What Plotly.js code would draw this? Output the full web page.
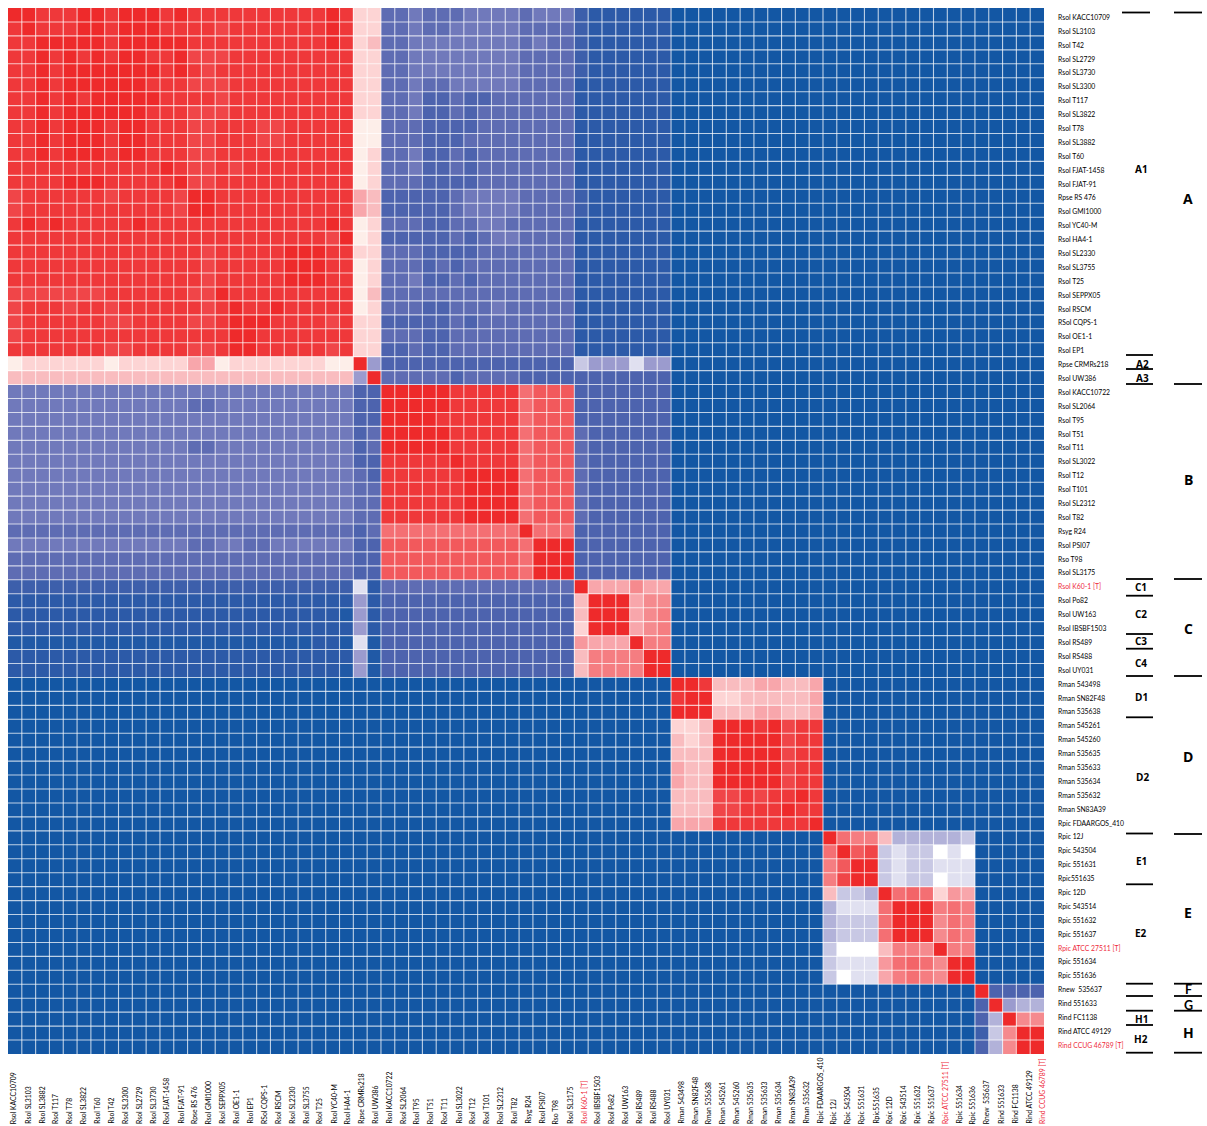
<!DOCTYPE html>
<html><head><meta charset="utf-8">
<script src="https://cdn.plot.ly/plotly-3.0.1.min.js"></script>
<style>html,body{margin:0;padding:0;background:#fff}</style></head>
<body><div id="chart" style="width:1207px;height:1126px"></div>
<script>
const rowLabels = ["Rsol KACC10709","Rsol SL3103","Rsol T42","Rsol SL2729","Rsol SL3730","Rsol SL3300","Rsol T117","Rsol SL3822","Rsol T78","Rsol SL3882","Rsol T60","Rsol FJAT-1458","Rsol FJAT-91","Rpse RS 476","Rsol GMI1000","Rsol YC40-M","Rsol HA4-1","Rsol SL2330","Rsol SL3755","Rsol T25","Rsol SEPPX05","Rsol RSCM","RSol CQPS-1","Rsol OE1-1","Rsol EP1","Rpse CRMRs218","Rsol UW386","Rsol KACC10722","Rsol SL2064","Rsol T95","Rsol T51","Rsol T11","Rsol SL3022","Rsol T12","Rsol T101","Rsol SL2312","Rsol T82","Rsyg R24","Rsol PSI07","Rso T98","Rsol SL3175","Rsol K60-1 [T]","Rsol Po82","Rsol UW163","Rsol IBSBF1503","Rsol RS489","Rsol RS488","Rsol UY031","Rman 543498","Rman SN82F48","Rman 535638","Rman 545261","Rman 545260","Rman 535635","Rman 535633","Rman 535634","Rman 535632","Rman SN83A39","Rpic FDAARGOS_410","Rpic 12J","Rpic 543504","Rpic 551631","Rpic551635","Rpic 12D","Rpic 543514","Rpic 551632","Rpic 551637","Rpic ATCC 27511 [T]","Rpic 551634","Rpic 551636","Rnew  535637","Rind 551633","Rind FC1138","Rind ATCC 49129","Rind CCUG 46789 [T]"];
const colLabels = ["Rsol KACC10709","Rsol SL3103","Rsol SL3882","Rsol T117","Rsol T78","Rsol SL3822","Rsol T60","Rsol T42","Rsol SL3300","Rsol SL2729","Rsol SL3730","Rsol FJAT-1458","Rsol FJAT-91","Rpse RS 476","Rsol GMI1000","Rsol SEPPX05","Rsol OE1-1","Rsol EP1","RSol CQPS-1","Rsol RSCM","Rsol SL2330","Rsol SL3755","Rsol T25","Rsol YC40-M","Rsol HA4-1","Rpse CRMRs218","Rsol UW386","Rsol KACC10722","Rsol SL2064","Rsol T95","Rsol T51","Rsol T11","Rsol SL3022","Rsol T12","Rsol T101","Rsol SL2312","Rsol T82","Rsyg R24","Rsol PSI07","Rso T98","Rsol SL3175","Rsol K60-1 [T]","Rsol IBSBF1503","Rsol Po82","Rsol UW163","Rsol RS489","Rsol RS488","Rsol UY031","Rman 543498","Rman SN82F48","Rman 535638","Rman 545261","Rman 545260","Rman 535635","Rman 535633","Rman 535634","Rman SN83A39","Rman 535632","Rpic FDAARGOS_410","Rpic 12J","Rpic 543504","Rpic 551631","Rpic551635","Rpic 12D","Rpic 543514","Rpic 551632","Rpic 551637","Rpic ATCC 27511 [T]","Rpic 551634","Rpic 551636","Rnew  535637","Rind 551633","Rind FC1138","Rind ATCC 49129","Rind CCUG 46789 [T]"];
const typeStrains = ["Rsol K60-1 [T]","Rpic ATCC 27511 [T]","Rind CCUG 46789 [T]"];

// Similarity levels read per cell, strains 1-48 against strains 1-48
const upperPanel = [
[19,19,18,18,18,19,19,18,19,19,19,18,19,18,18,18,18,18,18,18,18,18,18,19,18,11,11,3,3,4,3,3,3,4,4,4,4,3,4,4,4,1.5,1,1,1,1,1,1],
[18,19,18,18,18,19,19,18,19,19,19,18,18,18,18,17,18,18,18,18,18,18,18,19,18,11,11,3,3,4,3,3,4,4,4,4,4,3,3,3,3,1.5,1,1,1,1,1,1],
[18,18,19,19,19,19,19,18,19,19,19,19,19,18,18,18,18,18,18,18,18,18,18,19,18,11,12,3,3,4,4,4,4,4,4,4,4,3,4,3,3,1.5,1,1,1,1,1,1],
[18,18,19,18,19,18,19,18,19,19,18,18,19,17,17,17,18,18,18,18,18,18,18,18,18,11,11,3,3,4,4,4,4,4,4,4,4,3,3,3,3,1.5,1,1,1,1,1,1],
[18,18,19,18,19,19,19,19,19,19,19,18,19,18,17,18,18,18,18,18,18,18,18,18,18,11,11,3,3,4,4,4,4,4,4,4,4,3,3,3,3,1.5,1,1,1,1,1,1],
[18,18,19,18,19,19,19,19,19,19,18,18,18,17,17,17,18,18,18,18,18,18,18,18,18,11,11,3,3,4,3,3,4,4,4,4,4,3,3,3,3,1,1,1,1,1,1,1],
[18,18,19,18,19,18,19,19,19,19,19,18,18,18,18,17,18,18,18,18,18,18,18,18,18,11,11,3,3,4,2,2,3,2,2,3,3,3,3,3,3,1,1,1,1,1,1,1],
[18,18,19,18,19,19,19,19,19,19,18,18,18,17,17,17,18,18,18,18,18,18,18,18,18,11,11,3,3,4,2,2,3,2,3,3,3,3,3,3,3,1,1,1,1,1,1,1],
[18,18,19,18,19,19,19,18,19,19,18,18,18,17,17,18,18,18,17,17,18,18,18,18,18,10,10,3,3,3,2,2,2,2,3,3,3,3,3,3,3,1,1,1,1,1,1,1],
[18,18,19,18,19,19,19,18,19,19,18,18,18,17,17,18,18,18,17,17,18,18,18,18,18,10,10,3,3,3,2,2,2,3,3,3,3,3,3,3,3,1,1,1,1,1,1,1],
[18,18,19,18,19,19,19,18,19,19,18,18,18,17,17,18,18,18,18,18,18,18,18,18,18,10,11,3,3,4,2,2,3,2,3,3,3,3,3,3,3,1,1,1,1,1,1,1],
[18,18,18,18,18,18,18,18,18,18,18,19,18,17,17,18,17,18,18,18,18,18,18,18,18,10,11,3,3,4,2,2,3,2,3,3,3,3,3,3,3,1,1,1,1,1,1,1],
[18,18,18,18,19,19,19,18,18,18,18,18,19,17,17,18,18,18,18,18,18,18,18,18,18,10,11,3,3,3,2,2,2,2,3,3,3,3,3,3,3,1,1,1,1,1,1,1],
[17,18,18,18,18,18,18,17,18,18,18,18,17,19,19,18,18,18,18,18,18,18,18,18,18,13,12,2,2,2,2,2,3,4,4,4,4,3,3,3,3,1.5,1,1,1,1,1,1],
[17,18,18,18,18,18,18,18,18,18,18,18,17,19,19,18,18,18,18,18,18,18,18,18,18,13,12,2,2,2,2,2,3,4,4,4,4,3,3,3,3,1.5,1,1,1,1,1,1],
[18,19,18,19,18,18,18,18,18,19,18,18,18,18,18,18,18,18,18,18,18,18,18,19,18,10,11,3,3,3,2,2,3,3,4,4,3,3,3,3,3,1,1,1,1,1,1,1],
[18,18,18,18,18,18,18,18,18,18,18,18,18,18,18,18,18,18,18,18,18,18,18,17,19,10,11,2,2,2,2,2,3,2,3,4,4,3,3,3,3,1,1,1,1,1,1,1],
[18,18,18,18,18,18,18,18,18,18,18,18,18,18,17,18,18,18,18,18,19,19,19,18,18,11,11,3,3,3,2,2,2,2,3,3,3,3,3,3,3,1,1,1,1,1,1,1],
[18,18,18,18,18,18,18,18,18,18,18,18,18,18,17,18,18,18,18,18,19,19,19,18,18,10,11,3,3,3,2,3,2,3,3,3,3,3,3,3,3,1,1,1,1,1,1,1],
[18,18,18,18,18,18,18,18,18,18,18,18,18,18,17,18,18,18,18,18,19,19,19,18,18,10,11,3,3,4,2,2,3,2,3,3,3,3,3,3,3,1,1,1,1,1,1,1],
[17,17,17,17,17,17,17,18,18,18,18,18,18,17,17,19,18,18,18,18,18,18,18,18,18,10,12,3,3,3,3,3,3,3,3,3,3,3,3,3,3,1,1,1,1,1,1,1],
[17,18,18,18,17,18,18,17,18,18,18,18,18,18,17,18,19,18,18,19,18,18,18,18,18,10,11,3,3,3,2,2,3,3,3,4,3,3,3,3,3,1,1,1,1,1,1,1],
[17,18,18,18,18,18,18,17,17,18,18,18,18,17,17,18,19,19,19,18,18,18,18,17,18,11,11,2,2,2,2,2,3,2,3,3,3,3,3,3,3,1,1,1,1,1,1,1],
[17,18,18,18,18,18,18,18,18,18,18,18,18,18,18,18,19,19,18,18,18,18,18,18,18,11,11,3,3,3,2,2,3,3,3,3,3,3,3,3,3,1,1,1,1,1,1,1],
[18,18,18,18,18,18,18,17,17,18,18,18,18,17,17,18,19,19,18,18,18,18,18,17,18,11,11,2,2,3,2,2,3,3,3,3,3,3,3,3,3,1,1,1,1,1,1,1],
[10,11,11,11,11,11,11,10,11,11,11,11,11,13,13,10,11,11,11,11,11,11,11,10,10,19,5,2,2,2,2,2,2,2,2,2,2,2,2,2,2,7,5,5,5,8,5,5],
[12,12,12,12,12,12,12,12,12,12,12,12,12,12,12,12,12,12,12,12,12,12,12,12,12,5,19,3,3,3,3,3,2,3,3,3,3,2,2,2,2,2,2,2,2,2,2,2],
[4,4,4,4,4,4,4,4,4,4,4,4,4,4,4,4,4,4,4,4,4,4,4,4,4,2,2,19,19,19,19,19,18,18,18,18,18,15,16,16,16,2,2,2,2,2,2,2],
[4,4,4,4,4,4,4,4,4,4,4,4,4,3,3,4,4,4,4,4,4,4,4,4,4,2,2,19,19,19,19,19,18,18,18,18,18,15,16,16,16,2,2,2,2,2,2,2],
[4,4,4,4,4,4,4,4,4,4,4,4,4,4,4,4,4,4,4,4,4,4,4,4,4,2,2,19,19,19,19,18,18,18,18,18,18,15,16,16,16,2,2,2,2,2,2,2],
[4,4,4,4,4,4,4,4,4,4,4,4,4,4,4,4,4,4,4,4,4,4,4,4,4,2,3,19,19,19,19,19,18,18,18,18,18,15,16,16,16,3,2,2,2,2,2,2],
[4,4,4,4,4,4,4,4,4,4,4,4,4,3,3,4,4,4,4,4,4,4,4,4,4,2,3,19,19,19,19,19,18,18,18,18,18,15,16,16,16,3,2,2,2,2,2,2],
[4,4,4,4,4,4,4,4,4,4,4,4,4,4,4,4,4,4,4,4,4,4,4,4,4,2,2,18,18,18,18,18,19,18,18,18,18,15,16,16,16,3,2,2,2,2,2,2],
[4,4,4,4,4,4,4,4,4,4,4,4,4,4,4,4,4,4,4,4,4,4,4,4,4,3,2,18,18,18,18,18,18,19,19,19,19,15,16,16,16,3,2,2,2,2,2,2],
[4,4,4,4,4,4,4,4,4,4,4,4,4,4,4,4,4,4,4,4,4,4,4,4,4,3,3,18,18,18,18,18,18,19,19,19,19,15,16,16,16,3,2,2,2,2,2,2],
[4,4,4,4,4,4,4,4,4,4,4,4,4,4,4,4,4,4,4,4,4,4,4,4,4,3,3,18,18,18,18,18,18,19,19,19,19,15,16,16,16,3,2,2,2,2,2,2],
[4,4,4,4,4,4,4,4,4,4,4,4,4,4,4,4,4,4,4,4,4,4,4,4,4,3,3,18,18,18,18,18,18,19,19,19,19,15,16,16,16,3,2,2,2,2,2,2],
[3,3,3,3,3,3,3,3,3,3,3,3,3,3,3,3,3,3,3,3,3,3,3,3,3,2,3,15,15,15,15,15,15,15,15,15,15,19,15,15,15,2,2,2,2,2,2,2],
[4,4,4,4,4,4,4,4,4,4,4,4,4,3,3,4,4,3,3,4,4,4,4,4,4,2,2,16,16,16,16,16,16,16,16,16,16,15,19,19,19,2,2,2,2,2,2,2],
[3,3,3,3,3,3,3,3,3,3,3,3,3,3,3,3,3,3,3,3,3,3,3,3,3,2,2,16,16,16,16,16,16,16,16,16,16,15,19,19,19,2,2,2,2,2,2,2],
[3,3,3,3,3,3,3,3,3,3,3,3,3,3,3,3,3,3,3,3,3,3,3,3,3,2,2,16,16,16,16,16,16,16,16,16,16,15,19,19,19,2,2,2,2,2,2,2],
[1.5,1.5,1.5,1.5,1.5,1.5,1.5,1.5,1.5,1.5,1.5,1.5,1.5,1.5,1.5,1.5,1.5,1.5,1.5,1.5,1.5,1.5,1.5,1.5,1.5,8,1,3,3,3,3,3,3,3,3,3,3,3,3,3,3,19,13,13,13,14,13,13],
[1,1,1,1,1,1,1,1,1,1,1,1,1,1,1,1,1,1,1,1,1,1,1,1,1,5,1,2,2,2,2,2,2,2,2,2,2,2,2,2,2,12,19,19,19,13,14,14],
[1,1,1,1,1,1,1,1,1,1,1,1,1,1,1,1,1,1,1,1,1,1,1,1,0.5,5,1,2,2,2,2,2,2,2,2,2,2,2,2,2,2,12,19,19,19,13,14,14.5],
[1,1,1,1,1,1,1,1,1,1,1,1,1,1,1,1,1,1,1,1,1,1,1,1,1,5,1,2,2,2,2,2,2,2,2,2,2,2,2,2,2,11,19,19,19,13,14,14.5],
[0.5,0.5,0.5,0.5,0.5,0.5,0.5,0.5,0.5,0.5,0.5,0.5,0.5,0.5,0.5,0.5,0.5,0.5,0.5,0.5,0.5,0.5,1,1,0.5,8,0.5,2,2,2,2,2,2,2,2,2,2,2,2,2,2,13.5,13,13,13,19,14.5,14.5],
[1,1,1,1,1,1,1,1,1,1,1,1,1,1,1,1,1,1,1,1,1,1,1,1,1,5,0.5,2,2,2,2,2,2,2,2,2,2,2,2,2,2,12,14.5,14.5,14.5,14.5,19,19],
[1,1,1,1,1,1,1,1,1,1,1,1,1,1,1,1,1,1,1,1,1,1,1,1,0.5,5,0.5,2,2,2,2,2,2,2,2,2,2,2,2,2,2,12,14.5,14.5,14.5,14.5,19,19]
];
// Strains 49-75 against strains 49-75
const lowerPanel = [
[19,19,18,12,12,12,13,13,12,12,13,0,0,0,0,0,0,0,0,0,0,0,0,0,0,0,0],
[18,19,19,11,11,12,12,12,12,12,13,0,0,0,0,0,0,0,0,0,0,0,0,0,0,0,0],
[19,19,19,12,12,12,13,13,12,12,13,0,0,0,0,0,0,0,0,0,0,0,0,0,0,0,0],
[11,11,12,19,19,19,18,19,17,18,18,0,0,0,0,0,0,0,0,0,0,0,0,0,0,0,0],
[12,11,12,19,19,19,19,19,17,18,18,0,0,0,0,0,0,0,0,0,0,0,0,0,0,0,0],
[12,12,12,19,19,19,19,19,17,18,18,0,0,0,0,0,0,0,0,0,0,0,0,0,0,0,0],
[13,12,12,19,19,19,19,19,17,18,18,0,0,0,0,0,0,0,0,0,0,0,0,0,0,0,0],
[13,12,12,19,19,19,19,19,17,18,18,0,0,0,0,0,0,0,0,0,0,0,0,0,0,0,0],
[12,12,12,17,17,18,17,18,18,19,18,0,0,0,0,0,0,0,0,0,0,0,0,0,0,0,0],
[12,12,12,17,17,18,18,18,19,18,18,0,0,0,0,0,0,0,0,0,0,0,0,0,0,0,0],
[13,13,13,18,18,18,18,18,18,18,19,0,0,0,0,0,0,0,0,0,0,0,0,0,0,0,0],
[0,0,0,0,0,0,0,0,0,0,0,19,15,14.5,14.5,12,6,6,6,6,6,7,0,0,0,0,0],
[0,0,0,0,0,0,0,0,0,0,0,15,19,16,17,7,8,7,7,9,8,9,0,0,0,0,0],
[0,0,0,0,0,0,0,0,0,0,0,14.5,16,19,19,7,8,7,7,8,8,8,0,0,0,0,0],
[0,0,0,0,0,0,0,0,0,0,0,14.5,17,19,19,7,8,7,7,9,8,8,0,0,0,0,0],
[0,0,0,0,0,0,0,0,0,0,0,12,7,7,6,19,15,15.5,15,11,13.5,13,0,0,0,0,0],
[0,0,0,0,0,0,0,0,0,0,0,6,8,8,8,15,19,19,19,14.5,15,14.5,0,0,0,0,0],
[0,0,0,0,0,0,0,0,0,0,0,6,7,7,7,15,19,19,19,14,15,14.5,0,0,0,0,0],
[0,0,0,0,0,0,0,0,0,0,0,6,7,7,7,15,19,19,19,14,15,14.5,0,0,0,0,0],
[0,0,0,0,0,0,0,0,0,0,0,7,9,9,9,12,14.5,14.5,14,19,14.5,14.5,0,0,0,0,0],
[0,0,0,0,0,0,0,0,0,0,0,7,8,8,8,13.5,15,15.5,15,14,19,19,0,0,0,0,0],
[0,0,0,0,0,0,0,0,0,0,0,7,9,8,8,13,14.5,15,14.5,14,19,19,0,0,0,0,0],
[0,0,0,0,0,0,0,0,0,0,0,0,0,0,0,0,0,0,0,0,0,0,19,2,2,2,2],
[0,0,0,0,0,0,0,0,0,0,0,0,0,0,0,0,0,0,0,0,0,0,2,19,5,6,6],
[0,0,0,0,0,0,0,0,0,0,0,0,0,0,0,0,0,0,0,0,0,0,2,6,19,14,14],
[0,0,0,0,0,0,0,0,0,0,0,0,0,0,0,0,0,0,0,0,0,0,1.5,7,14,19,19],
[0,0,0,0,0,0,0,0,0,0,0,0,0,0,0,0,0,0,0,0,0,0,2,6,14,19,19]
];
const betweenPanelsLevel = 0; // every cell linking strains 1-48 with strains 49-75 reads as the darkest blue

const levelColors = ["#1357a4","#2c5aa8","#4d63ae","#5e6cb3","#7079bb","#9b9bce","#b2b2d9","#c8c8e4","#e0e0f0","#ffffff","#fdeee9","#fdd4d4","#f9bcbf","#f8a6ab","#f58a8e","#f46f73","#f2595c","#f04548","#ef383a","#ee2a2b"];

const z = upperPanel.map(r => r.concat(lowerPanel.map(() => betweenPanelsLevel)))
  .concat(lowerPanel.map(r => upperPanel.map(() => betweenPanelsLevel).concat(r)));

const L = 8, T = 8, R = 1044, B = 1054;
const px = x => (x - L) / (R - L), py = y => 1 - (y - T) / (B - T);
const cellW = (R - L) / 75, cellH = (B - T) / 75;
const labelFont = "Lato, 'Open Sans', sans-serif", labelSize = 6.8, red = "#ee2a3a";
const idx = rowLabels.map((_, i) => i);
// The printed labels run on a slightly different pitch from the cells
const rowLabelPos = idx.map(i => (17.5 + 13.89 * i - T) / cellH - 0.5);
const colLabelPos = idx.map(i => (13.3 + 13.9 * i - L) / cellW - 0.5);

const colAnnotations = colLabels.map((t, i) => ({
  x: colLabelPos[i], xref: "x", y: py(1124), yref: "paper", text: t, showarrow: false, textangle: -90,
  xanchor: "center", yanchor: "bottom", borderpad: 0, borderwidth: 0,
  font: {family: labelFont, size: labelSize, color: typeStrains.includes(t) ? red : "#000"}
}));
const groupLabel = (t, x, y, size, family) => ({x: px(x), xref: "paper", y: py(y), yref: "paper", text: "<b>" + t + "</b>", showarrow: false,
  xanchor: "center", yanchor: "middle", borderpad: 0, font: {family: family || "'Open Sans', sans-serif", size: size, color: "#000"}});
const minor = [["A1",1141,169],["A2",1142,364],["A3",1142,378],["C1",1141,587],["C2",1141,614],["C3",1141,641],["C4",1141,663],["D1",1141,697],["D2",1142,777],["E1",1141,861],["E2",1141,933],["H1",1141,1019],["H2",1141,1039]];
const major = [["A",1188,199],["B",1188,479],["C",1188,629],["D",1188,756],["E",1188,912],["H",1188,1032]];
const tight = [["F",1188,989.5],["G",1188,1005.5]];
const line = (x0, x1, y) => ({type: "line", xref: "paper", yref: "paper", x0: px(x0), x1: px(x1), y0: py(y), y1: py(y), line: {color: "#000", width: 1.8}});
const minorLines = [355,369,384,579,595.7,634,648.7,676,717.3,833.5,884.3,983.7,996,1010.7,1025,1052.7];
const majorLines = [12.5,384,579,676,834,983.7,996,1010.7,1052.7];
const grid = {color: "rgba(255,255,255,0.72)", width: 1.1};
const gridLines = idx.slice(1).flatMap(i => [
  {type: "line", xref: "x", yref: "y", x0: i - 0.5, x1: i - 0.5, y0: -0.5, y1: 74.5, line: grid},
  {type: "line", xref: "x", yref: "y", x0: -0.5, x1: 74.5, y0: i - 0.5, y1: i - 0.5, line: grid}
]);
const shapes = gridLines.concat([line(1122,1150,12.5)], minorLines.map(y => line(1126,1153,y)), majorLines.map(y => line(1174,1202,y)));

Plotly.newPlot("chart", [{
  type: "heatmap", z: z, x: idx, y: idx, zmin: 0, zmax: levelColors.length - 1,
  colorscale: levelColors.map((c, i) => [i / (levelColors.length - 1), c]),
  showscale: false, hoverinfo: "skip"
}], {
  width: 1207, height: 1126, paper_bgcolor: "#fff", plot_bgcolor: "#fff",
  margin: {l: L, r: 1207 - R, t: T, b: 1126 - B, pad: 0}, showlegend: false,
  xaxis: {range: [-0.5, 74.5], showticklabels: false, ticks: "", showgrid: false, zeroline: false, showline: false},
  yaxis: {range: [74.5, -0.5], side: "right", tickmode: "array", tickvals: rowLabelPos,
    ticktext: rowLabels.map(t => typeStrains.includes(t) ? '<span style="color:' + red + '">' + t + '</span>' : t),
    ticks: "", ticklabelstandoff: 13, showgrid: false, zeroline: false, showline: false, automargin: false,
    tickfont: {family: labelFont, size: labelSize, color: "#000"}},
  shapes: shapes,
  annotations: colAnnotations.concat(minor.map(m => groupLabel(m[0], m[1], m[2], 10)), major.map(m => groupLabel(m[0], m[1], m[2], 14)), tight.map(m => groupLabel(m[0], m[1], m[2], 12.5, "Lato, sans-serif")))
}, {displayModeBar: false, staticPlot: true});
</script></body></html>
